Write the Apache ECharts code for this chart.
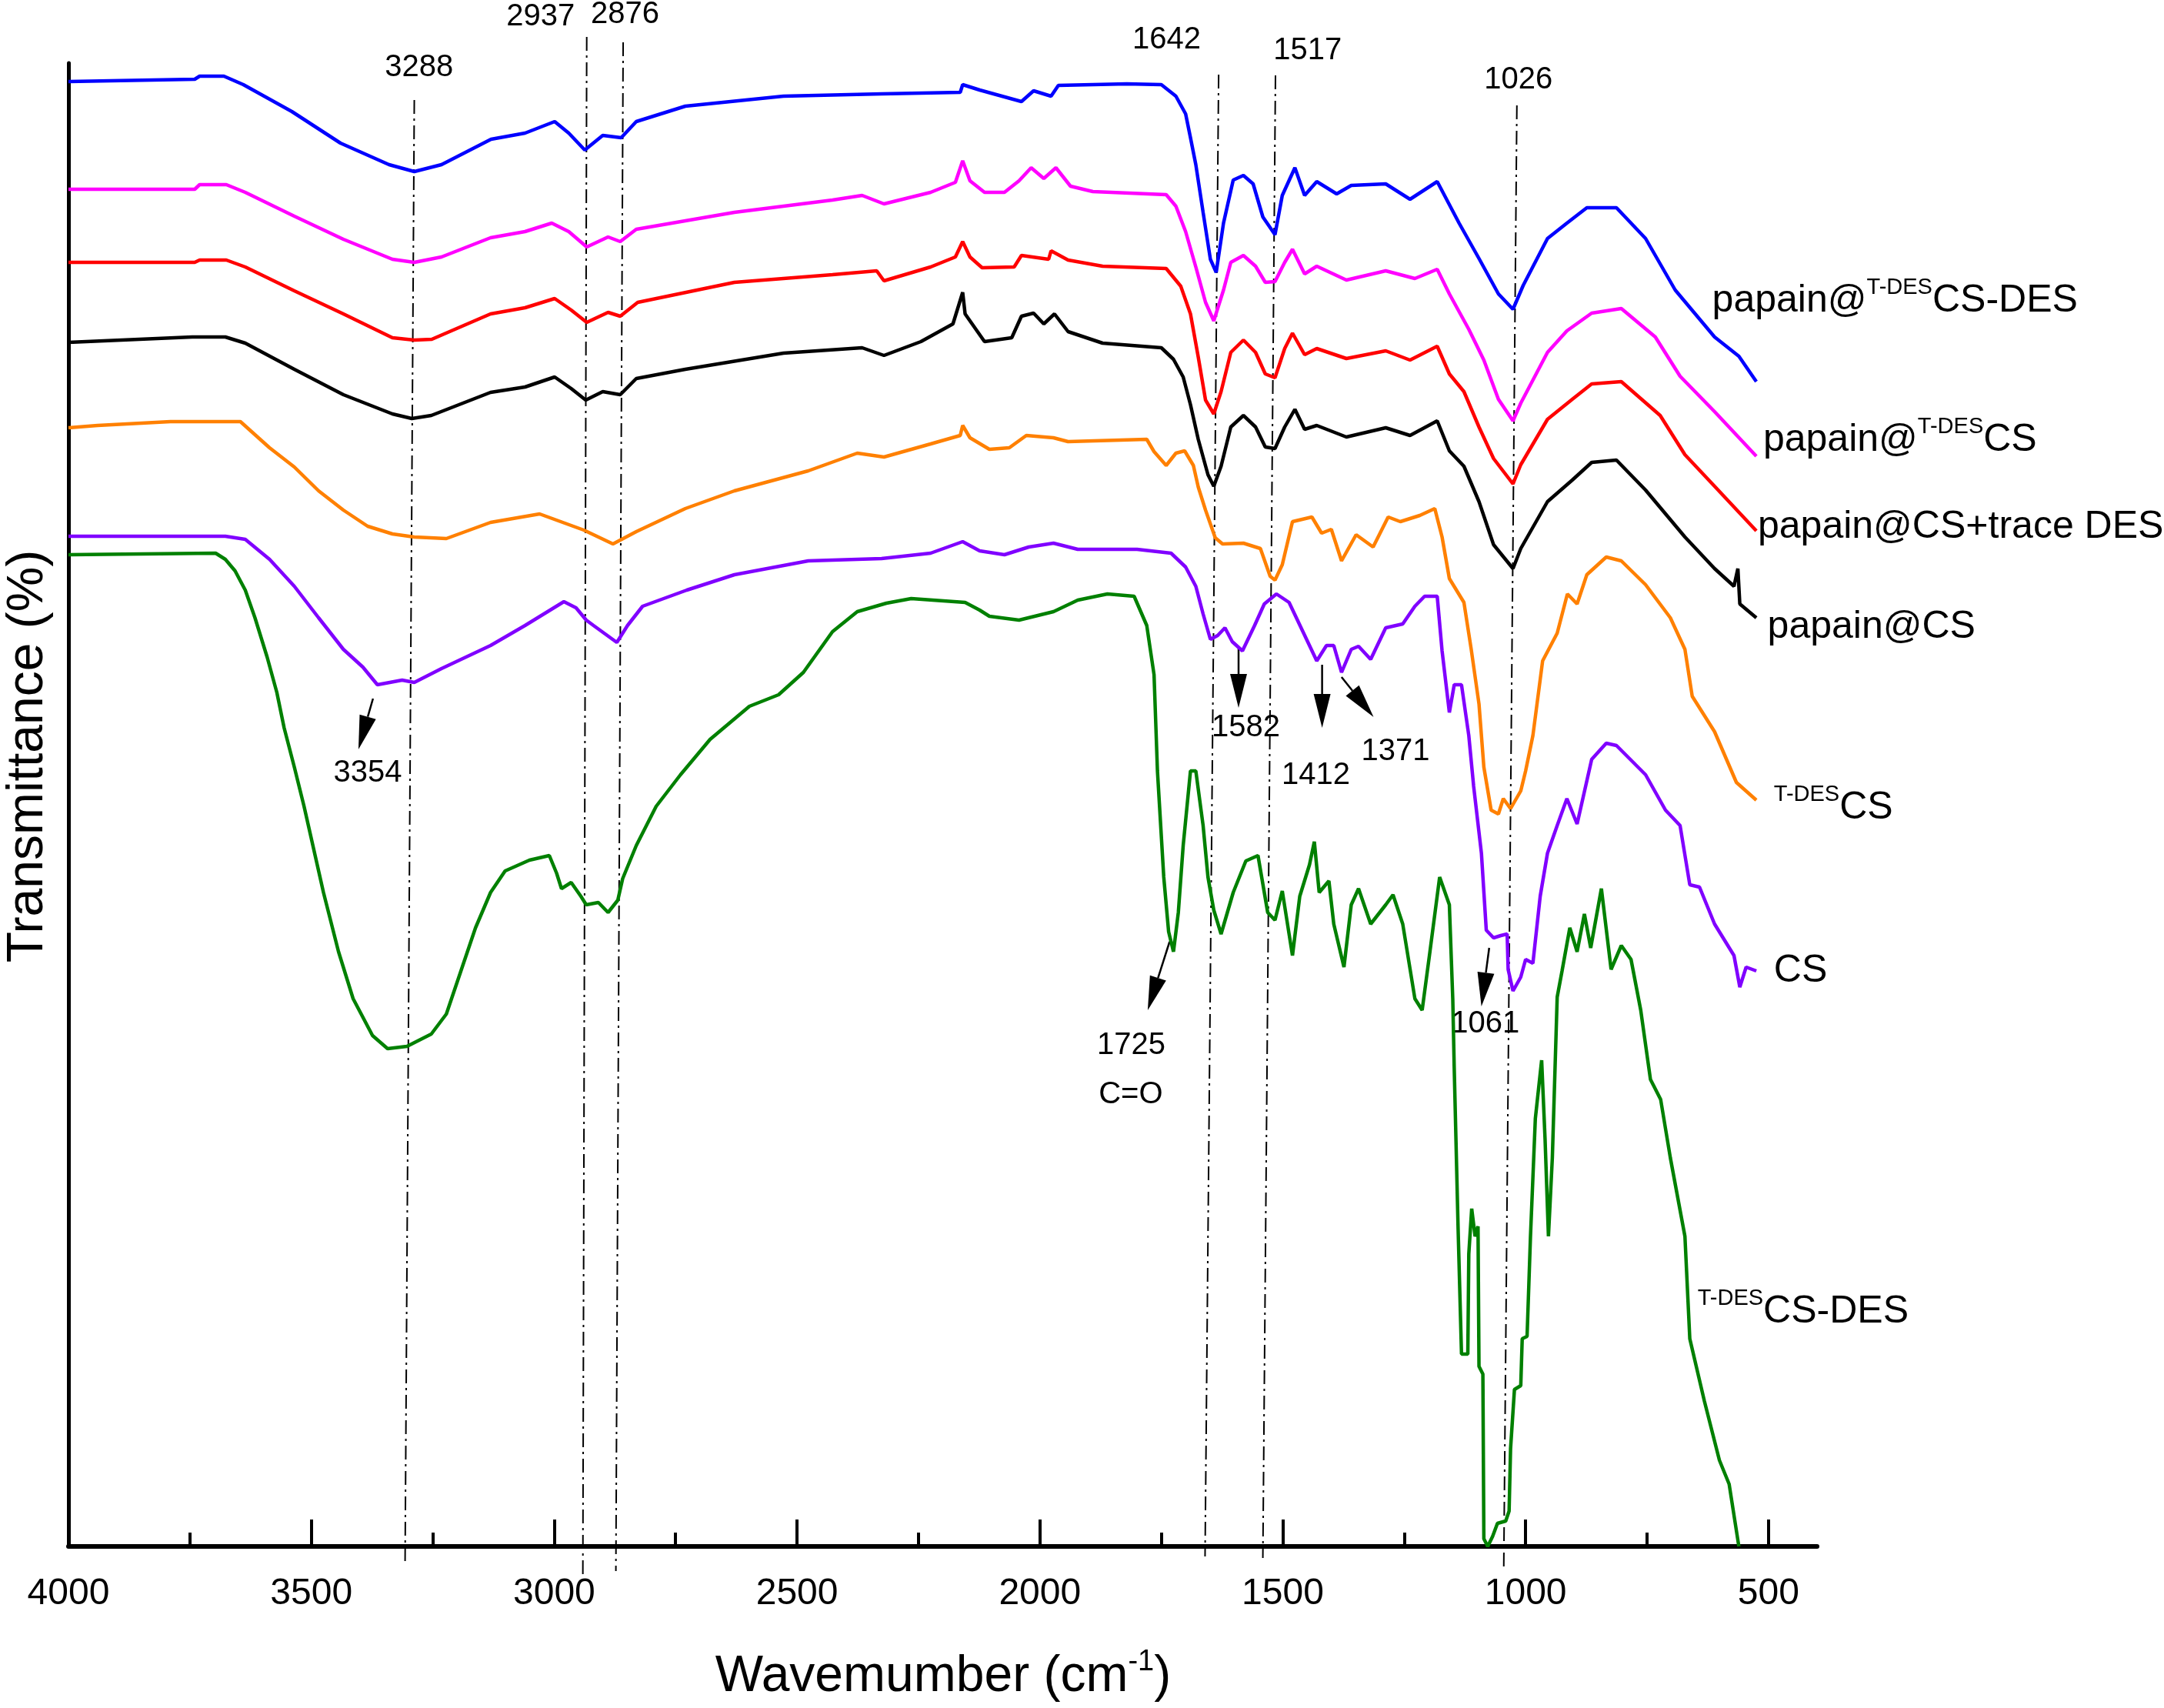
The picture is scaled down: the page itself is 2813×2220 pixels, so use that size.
<!DOCTYPE html>
<html>
<head>
<meta charset="utf-8">
<title>FTIR spectra</title>
<script src="https://cdn.jsdelivr.net/npm/echarts@6/dist/echarts.min.js"></script>
<style>
html, body { margin: 0; padding: 0; background: #fff; }
#chart { width: 2813px; height: 2220px; }
</style>
</head>
<body>
<div id="chart"></div>
<script>
// ---- data: [wavenumber cm-1, transmittance (a.u., curves are offset)] ----
var tdesCsDesPapain = [[4000,1904],[3740,1907],[3730,1911],[3680,1911],[3640,1900],[3540,1865],[3440,1824],[3340,1796],[3288,1787],[3232,1796],[3130,1829],[3060,1837],[2999,1852],[2970,1837],[2937,1815],[2900,1834],[2862,1831],[2831,1852],[2730,1872],[2528,1885],[2326,1888],[2164,1890],[2159,1900],[2124,1893],[2038,1878],[2013,1892],[1977,1885],[1962,1899],[1821,1901],[1750,1900],[1720,1885],[1700,1862],[1690,1831],[1679,1796],[1664,1734],[1649,1673],[1637,1656],[1622,1720],[1602,1776],[1581,1782],[1561,1771],[1541,1728],[1516,1705],[1501,1756],[1475,1792],[1455,1756],[1430,1774],[1389,1758],[1359,1769],[1288,1771],[1238,1751],[1182,1774],[1167,1756],[1137,1720],[1096,1674],[1056,1628],[1026,1608],[1005,1639],[955,1700],[915,1720],[874,1740],[813,1740],[753,1700],[692,1633],[611,1572],[561,1547],[525,1514]];

var tdesCsPapain = [[4000,1764],[3740,1764],[3730,1770],[3675,1770],[3636,1760],[3535,1729],[3434,1699],[3333,1673],[3288,1669],[3232,1676],[3131,1701],[3060,1709],[3005,1720],[2970,1709],[2933,1689],[2889,1702],[2864,1696],[2831,1712],[2629,1734],[2427,1750],[2366,1756],[2321,1745],[2225,1760],[2174,1773],[2159,1801],[2144,1775],[2114,1760],[2073,1760],[2043,1775],[2018,1792],[1992,1778],[1967,1792],[1937,1768],[1891,1761],[1740,1757],[1720,1742],[1700,1709],[1679,1663],[1659,1617],[1642,1593],[1622,1633],[1607,1669],[1581,1678],[1556,1664],[1536,1643],[1516,1644],[1496,1669],[1480,1686],[1455,1654],[1430,1664],[1369,1646],[1288,1658],[1228,1648],[1182,1660],[1157,1628],[1117,1582],[1086,1542],[1056,1491],[1026,1463],[1010,1486],[955,1552],[915,1580],[864,1603],[803,1609],[733,1572],[682,1521],[611,1475],[525,1417]];

var csTraceDesPapain = [[4000,1669],[3740,1669],[3730,1672],[3675,1672],[3636,1663],[3535,1632],[3434,1602],[3333,1571],[3288,1568],[3252,1569],[3131,1602],[3060,1610],[2999,1622],[2965,1607],[2933,1591],[2889,1604],[2864,1599],[2828,1617],[2629,1643],[2427,1653],[2336,1658],[2321,1645],[2225,1663],[2174,1676],[2159,1696],[2144,1676],[2119,1662],[2053,1663],[2038,1678],[1982,1673],[1977,1684],[1942,1672],[1871,1664],[1740,1661],[1710,1638],[1690,1602],[1674,1546],[1659,1490],[1642,1472],[1627,1501],[1607,1552],[1581,1568],[1556,1552],[1536,1524],[1516,1519],[1496,1557],[1480,1577],[1455,1549],[1430,1557],[1369,1544],[1288,1554],[1238,1542],[1182,1560],[1157,1524],[1127,1501],[1096,1455],[1066,1414],[1026,1381],[1010,1406],[955,1465],[904,1491],[864,1511],[803,1514],[723,1470],[672,1419],[611,1378],[525,1320]];

var csPapain = [[4000,1565],[3745,1572],[3677,1572],[3636,1564],[3535,1530],[3434,1497],[3333,1472],[3293,1466],[3253,1470],[3131,1500],[3060,1507],[2999,1520],[2965,1505],[2935,1490],[2900,1501],[2864,1497],[2831,1518],[2730,1530],[2528,1551],[2366,1558],[2321,1548],[2245,1566],[2179,1589],[2159,1630],[2154,1602],[2114,1566],[2058,1571],[2038,1599],[2013,1603],[1992,1589],[1970,1602],[1942,1579],[1871,1564],[1750,1558],[1725,1543],[1705,1520],[1690,1484],[1674,1439],[1654,1393],[1642,1378],[1627,1404],[1607,1455],[1581,1470],[1556,1455],[1536,1429],[1516,1427],[1496,1455],[1475,1478],[1455,1452],[1430,1457],[1369,1442],[1288,1454],[1238,1444],[1182,1463],[1157,1424],[1127,1404],[1096,1358],[1066,1302],[1026,1271],[1010,1297],[955,1358],[904,1386],[864,1409],[813,1412],[753,1373],[672,1312],[611,1271],[571,1248],[563,1271],[559,1225],[525,1207]];

var tdesCs = [[4000,1454],[3940,1457],[3790,1462],[3646,1462],[3586,1428],[3535,1403],[3485,1372],[3434,1347],[3384,1326],[3333,1316],[3288,1312],[3222,1310],[3131,1331],[3030,1342],[2939,1321],[2879,1303],[2831,1319],[2730,1349],[2629,1372],[2477,1398],[2376,1421],[2321,1416],[2225,1433],[2164,1444],[2159,1457],[2144,1441],[2104,1426],[2063,1428],[2028,1444],[1972,1441],[1942,1436],[1780,1439],[1765,1423],[1740,1405],[1720,1421],[1702,1424],[1684,1405],[1674,1377],[1659,1347],[1639,1311],[1624,1303],[1581,1304],[1546,1297],[1526,1261],[1516,1256],[1501,1276],[1480,1332],[1440,1338],[1420,1317],[1400,1322],[1379,1281],[1349,1315],[1314,1299],[1283,1338],[1258,1332],[1218,1340],[1187,1349],[1172,1312],[1157,1258],[1127,1227],[1112,1166],[1096,1095],[1086,1013],[1071,957],[1056,952],[1046,972],[1031,959],[1010,982],[1000,1008],[985,1054],[965,1151],[935,1187],[914,1238],[894,1225],[874,1263],[834,1286],[803,1281],[753,1250],[702,1207],[672,1166],[657,1105],[611,1059],[566,993],[525,970]];

var cs = [[4000,1313],[3677,1313],[3636,1309],[3586,1283],[3535,1248],[3485,1207],[3434,1166],[3394,1143],[3364,1120],[3313,1126],[3288,1123],[3232,1141],[3131,1171],[3060,1197],[2980,1228],[2955,1220],[2934,1204],[2919,1197],[2871,1175],[2849,1197],[2818,1222],[2727,1243],[2629,1263],[2477,1281],[2326,1284],[2225,1291],[2159,1306],[2124,1294],[2073,1289],[2023,1299],[1972,1304],[1922,1296],[1800,1296],[1730,1291],[1700,1273],[1679,1248],[1664,1212],[1649,1179],[1634,1184],[1619,1194],[1604,1176],[1583,1164],[1558,1197],[1538,1225],[1513,1238],[1487,1227],[1457,1187],[1430,1151],[1410,1171],[1395,1171],[1379,1136],[1359,1166],[1344,1170],[1319,1153],[1288,1194],[1253,1199],[1228,1222],[1208,1235],[1182,1235],[1172,1164],[1157,1084],[1147,1120],[1132,1120],[1117,1054],[1107,988],[1091,901],[1081,801],[1066,791],[1051,794],[1038,796],[1036,750],[1026,722],[1010,740],[1000,763],[985,758],[970,845],[955,901],[935,937],[915,972],[894,939],[864,1023],[834,1044],[813,1041],[753,1003],[712,957],[682,937],[662,860],[642,857],[611,809],[571,768],[559,727],[546,753],[525,748]];

var tdesCsDes = [[4000,1289],[3697,1291],[3677,1283],[3657,1268],[3636,1243],[3616,1207],[3591,1156],[3571,1110],[3556,1064],[3535,1013],[3515,962],[3495,906],[3475,850],[3444,773],[3414,712],[3374,664],[3343,647],[3303,650],[3253,666],[3222,692],[3192,748],[3162,804],[3131,850],[3101,878],[3051,892],[3010,898],[2995,875],[2985,855],[2965,863],[2945,845],[2934,834],[2909,837],[2889,824],[2869,840],[2859,868],[2831,911],[2790,962],[2740,1003],[2679,1049],[2598,1092],[2538,1107],[2487,1136],[2427,1189],[2376,1215],[2316,1226],[2265,1232],[2154,1227],[2124,1217],[2104,1209],[2043,1204],[1972,1215],[1922,1230],[1861,1238],[1806,1235],[1780,1197],[1765,1133],[1758,1008],[1745,870],[1735,799],[1725,773],[1715,824],[1705,911],[1690,1008],[1679,1008],[1664,937],[1654,870],[1642,827],[1627,796],[1602,850],[1576,891],[1551,898],[1531,824],[1516,814],[1501,852],[1480,768],[1465,845],[1445,886],[1435,916],[1425,850],[1405,865],[1395,809],[1374,753],[1359,834],[1344,855],[1319,809],[1288,834],[1273,847],[1253,809],[1228,712],[1213,697],[1197,773],[1177,870],[1157,834],[1150,712],[1147,622],[1139,413],[1132,250],[1119,250],[1117,380],[1111,439],[1104,403],[1098,416],[1096,234],[1088,224],[1086,10],[1078,0],[1068,13],[1058,30],[1041,33],[1034,46],[1031,127],[1023,204],[1010,209],[1007,270],[997,273],[990,403],[980,556],[967,632],[960,530],[953,403],[945,505],[935,714],[925,748],[909,804],[894,773],[879,822],[866,778],[844,855],[824,750],[803,781],[783,763],[763,697],[743,607],[722,581],[702,505],[672,403],[662,270],[632,189],[601,112],[581,81],[561,0]];

var majorTicks = [500, 1000, 1500, 2000, 2500, 3000, 3500, 4000];
var minorTicks = [750, 1250, 1750, 2250, 2750, 3250, 3750];

// marked peaks (cm-1) and the dash-dot guides through them: [top, bottom]
var peakGuides = [
  [[3288, 1880], [3307, -23]],
  [[2933, 1962], [2941, -37]],
  [[2858, 1955], [2873, -32]],
  [[1632, 1913], [1660, -13]],
  [[1515, 1912], [1541, -15]],
  [[1018, 1873], [1045, -26]]
];

// ---- layout of the annotations (data coordinates) ----
var peakTexts = [
  ['3288', 3278, 1922], ['2937', 3028, 1988], ['2876', 2854, 1991],
  ['1642', 1739, 1958], ['1517', 1449, 1944], ['1026', 1015, 1906],
  ['3354', 3384, 1005], ['1582', 1576, 1064], ['1412', 1432, 1002],
  ['1371', 1268, 1033], ['1061', 1083, 679], ['1725', 1812, 651],
  ['C=O', 1813, 587]
];
// arrows: tail -> tip
var arrowList = [
  [[3373, 1102], [3403, 1036]],
  [[1591, 1169], [1591, 1090]],
  [[1419, 1146], [1419, 1064]],
  [[1379, 1130], [1313, 1078]],
  [[1733, 786], [1778, 697]],
  [[1075, 778], [1091, 702]]
];
// curve names, left end of each name
var curveNames = [
  ['{m|papain@}{s|T-DES}{m|CS-DES}', 616, 1619],
  ['{m|papain@}{s|T-DES}{m|CS}', 511, 1438],
  ['{m|papain@CS+trace DES}', 522, 1325],
  ['{m|papain@CS}', 502, 1195],
  ['{s|T-DES}{m|CS}', 489, 960],
  ['{m|CS}', 489, 748],
  ['{s|T-DES}{m|CS-DES}', 646, 305]
];

var FONT = '"Liberation Sans", Arial, sans-serif';

function spectrum(name, data, color) {
  return {
    name: name, type: 'line', data: data,
    showSymbol: false, symbol: 'none', silent: true, z: 3,
    lineStyle: { color: color, width: 4.5 }, itemStyle: { color: color }
  };
}

var series = [
  spectrum('papain@T-DESCS-DES', tdesCsDesPapain, '#0000ff'),
  spectrum('papain@T-DESCS', tdesCsPapain, '#ff00ff'),
  spectrum('papain@CS+trace DES', csTraceDesPapain, '#ff0000'),
  spectrum('papain@CS', csPapain, '#000000'),
  spectrum('T-DESCS', tdesCs, '#ff8000'),
  spectrum('CS', cs, '#8000ff'),
  spectrum('T-DESCS-DES', tdesCsDes, '#008000')
];
peakGuides.forEach(function (seg) {
  series.push({
    type: 'line', data: seg, showSymbol: false, symbol: 'none',
    silent: true, clip: false, z: 2,
    lineStyle: { color: '#000', width: 2, type: [18, 6, 3, 6] }
  });
});

var chart = echarts.init(document.getElementById('chart'));
chart.setOption({
  animation: false,
  backgroundColor: '#fff',
  grid: { left: 89, right: 451, top: 82, bottom: 210 },
  xAxis: [{
    type: 'value', min: 400, max: 4000, inverse: true,
    axisLine: { onZero: false, lineStyle: { color: '#000', width: 6 } },
    axisTick: { inside: true, length: 35, customValues: majorTicks, lineStyle: { color: '#000', width: 4 } },
    axisLabel: {
      customValues: majorTicks, margin: 38, fontSize: 48, color: '#000', fontFamily: FONT,
      formatter: function (v) { return String(v); }
    },
    splitLine: { show: false }
  }, {
    type: 'value', min: 400, max: 4000, inverse: true, position: 'bottom',
    axisLine: { show: false },
    axisTick: { inside: true, length: 18, customValues: minorTicks, lineStyle: { color: '#000', width: 4 } },
    axisLabel: { show: false },
    splitLine: { show: false }
  }],
  yAxis: {
    type: 'value', min: 0, max: 1928,
    axisLine: { show: true, onZero: false, lineStyle: { color: '#000', width: 5 } },
    axisTick: { show: false },
    axisLabel: { show: false },
    splitLine: { show: false }
  },
  series: series
});

// annotations placed through the axes' scales
function px(p) { return chart.convertToPixel({ xAxisIndex: 0, yAxisIndex: 0 }, p); }

var graphics = [];
peakTexts.forEach(function (t) {
  var p = px([t[1], t[2]]);
  graphics.push({
    type: 'text', x: p[0], y: p[1], silent: true,
    style: { text: t[0], font: '40px ' + FONT, fill: '#000', align: 'center', verticalAlign: 'middle' }
  });
});
arrowList.forEach(function (a) {
  var p0 = px(a[0]), p1 = px(a[1]);
  var dx = p1[0] - p0[0], dy = p1[1] - p0[1];
  var len = Math.sqrt(dx * dx + dy * dy);
  var ux = dx / len, uy = dy / len;
  var head = 44, half = 11;
  var bx = p1[0] - ux * head, by = p1[1] - uy * head;
  graphics.push({
    type: 'line', silent: true,
    shape: { x1: p0[0], y1: p0[1], x2: bx, y2: by },
    style: { stroke: '#000', lineWidth: 2.5 }
  });
  graphics.push({
    type: 'polygon', silent: true,
    shape: { points: [[p1[0], p1[1]], [bx - uy * half, by + ux * half], [bx + uy * half, by - ux * half]] },
    style: { fill: '#000' }
  });
});
curveNames.forEach(function (c) {
  var p = px([c[1], c[2]]);
  graphics.push({
    type: 'text', x: p[0], y: p[1], silent: true,
    style: {
      text: c[0], align: 'left', verticalAlign: 'middle', fill: '#000',
      rich: {
        m: { fontSize: 50, fontFamily: FONT, lineHeight: 64, color: '#000' },
        s: { fontSize: 29, fontFamily: FONT, lineHeight: 22, verticalAlign: 'top', color: '#000' }
      }
    }
  });
});
// axis titles
graphics.push({
  type: 'text', x: 1226, y: 2180, silent: true,
  style: {
    text: '{m|Wavemumber (cm}{s|-1}{m|)}', align: 'center', verticalAlign: 'middle',
    rich: {
      m: { fontSize: 66, fontFamily: FONT, lineHeight: 76, color: '#000' },
      s: { fontSize: 38, fontFamily: FONT, lineHeight: 28, verticalAlign: 'top', color: '#000' }
    }
  }
});
graphics.push({
  type: 'text', x: 37, y: 983, rotation: Math.PI / 2, silent: true,
  style: { text: 'Transmittance (%)', font: '66px ' + FONT, fill: '#000', align: 'center', verticalAlign: 'middle' }
});

chart.setOption({ graphic: graphics });
</script>
</body>
</html>
